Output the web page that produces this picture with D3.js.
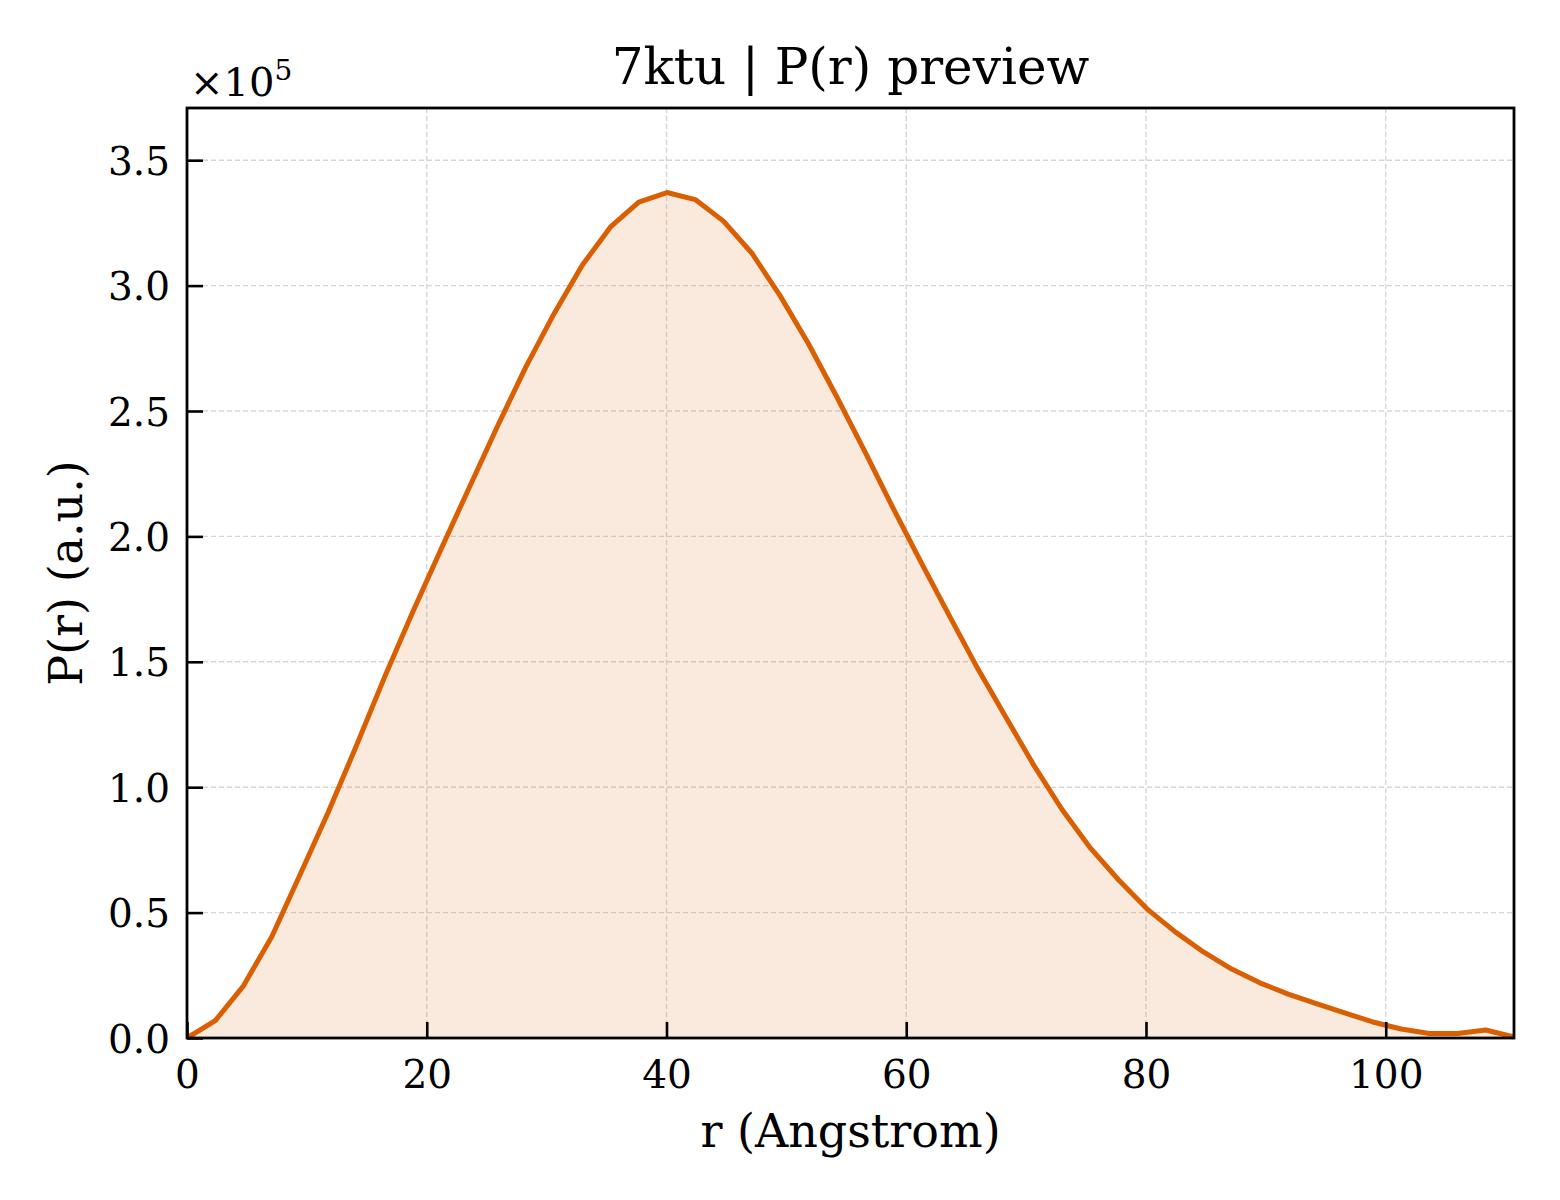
<!DOCTYPE html>
<html>
<head>
<meta charset="utf-8">
<script src="https://cdn.jsdelivr.net/npm/d3@7"></script>
<style>
  body { margin: 0; background: #fff; }
  svg text { font-family: "DejaVu Serif", serif; fill: #000; }
</style>
</head>
<body>
<div id="chart"></div>
<script>

const rValues = [0, 2.36, 4.71, 7.07, 9.42, 11.78, 14.13, 16.49, 18.84, 21.2,
  23.55, 25.91, 28.26, 30.62, 32.97, 35.33, 37.69, 40.04, 42.4, 44.75,
  47.11, 49.46, 51.82, 54.17, 56.53, 58.88, 61.24, 63.59, 65.95, 68.3,
  70.66, 73.01, 75.37, 77.72, 80.08, 82.44, 84.79, 87.15, 89.5, 91.86,
  94.21, 96.57, 98.92, 101.28, 103.63, 105.99, 108.34, 110.7]

// P(r) in units of 1e5
const prValues = [0, 0.069, 0.208, 0.404, 0.65, 0.9, 1.165, 1.44, 1.7, 1.95,
  2.195, 2.44, 2.675, 2.888, 3.081, 3.234, 3.333, 3.371, 3.343, 3.257,
  3.13, 2.961, 2.77, 2.56, 2.34, 2.115, 1.896, 1.684, 1.474, 1.28,
  1.086, 0.91, 0.757, 0.63, 0.515, 0.423, 0.343, 0.275, 0.22, 0.175,
  0.137, 0.1, 0.064, 0.036, 0.018, 0.018, 0.032, 0.004]

const xTicks = [0, 20, 40, 60, 80, 100]
const yTicks = [0, 0.5, 1.0, 1.5, 2.0, 2.5, 3.0, 3.5]

const chartTitle = "7ktu | P(r) preview"
const xLabel = "r (Angstrom)"
const yLabel = "P(r) (a.u.)"

const width = 1560
const height = 1200
const margin = { top: 108, right: 46, bottom: 162, left: 187 }
const lineColor = "#d95f02"

const data = rValues.map((r, i) => ({ r: r, p: prValues[i] }))

const svg = d3.select("#chart")
  .append("svg")
  .attr("width", width)
  .attr("height", height)

const x = d3.scaleLinear()
  .domain([0, d3.max(rValues)])
  .range([margin.left, width - margin.right])

const y = d3.scaleLinear()
  .domain([0, d3.max(prValues) * 1.1])
  .range([height - margin.bottom, margin.top])

const plotW = width - margin.left - margin.right
const plotH = height - margin.top - margin.bottom

// grid
svg.append("g")
  .selectAll("line")
  .data(xTicks.filter((d) => d > 0))
  .join("line")
  .attr("x1", (d) => x(d))
  .attr("x2", (d) => x(d))
  .attr("y1", margin.top)
  .attr("y2", height - margin.bottom)
  .attr("stroke", "#d6d6d6")
  .attr("stroke-width", 1.4)
  .attr("stroke-dasharray", "5,3")

svg.append("g")
  .selectAll("line")
  .data(yTicks.filter((d) => d > 0))
  .join("line")
  .attr("x1", margin.left)
  .attr("x2", width - margin.right)
  .attr("y1", (d) => y(d))
  .attr("y2", (d) => y(d))
  .attr("stroke", "#d6d6d6")
  .attr("stroke-width", 1.4)
  .attr("stroke-dasharray", "5,3")

// fill + line
const area = d3.area()
  .x((d) => x(d.r))
  .y0(y(0))
  .y1((d) => y(d.p))

svg.append("path")
  .datum(data)
  .attr("d", area)
  .attr("fill", lineColor)
  .attr("fill-opacity", 0.13)

const line = d3.line()
  .x((d) => x(d.r))
  .y((d) => y(d.p))

svg.append("path")
  .datum(data)
  .attr("d", line)
  .attr("fill", "none")
  .attr("stroke", lineColor)
  .attr("stroke-width", 5)
  .attr("stroke-linejoin", "round")

// axes with inward ticks
const xAxis = svg.append("g")
  .attr("transform", `translate(0,${height - margin.bottom})`)
  .call(d3.axisBottom(x).tickValues(xTicks).tickSizeInner(-16).tickSizeOuter(0).tickPadding(22))

const yAxis = svg.append("g")
  .attr("transform", `translate(${margin.left},0)`)
  .call(d3.axisLeft(y).tickValues(yTicks).tickFormat(d3.format(".1f")).tickSizeInner(-16).tickSizeOuter(0).tickPadding(17))

for (const ax of [xAxis, yAxis]) {
  ax.select(".domain").remove()
  ax.selectAll(".tick line")
    .attr("stroke", "#000")
    .attr("stroke-width", 2.6)
  ax.selectAll(".tick text")
    .style("font-family", "'DejaVu Serif', serif")
    .style("font-size", "39px")
}

xAxis.selectAll(".tick text").attr("dy", "0.71em")
yAxis.selectAll(".tick text").attr("dy", "0.36em")

// frame
svg.append("rect")
  .attr("x", margin.left)
  .attr("y", margin.top)
  .attr("width", plotW)
  .attr("height", plotH)
  .attr("fill", "none")
  .attr("stroke", "#000")
  .attr("stroke-width", 2.8)

// texts
svg.append("text")
  .attr("x", margin.left + plotW / 2)
  .attr("y", 84)
  .attr("text-anchor", "middle")
  .style("font-size", "50px")
  .text(chartTitle)

svg.append("text")
  .attr("x", margin.left + plotW / 2)
  .attr("y", 1147)
  .attr("text-anchor", "middle")
  .style("font-size", "46px")
  .text(xLabel)

svg.append("text")
  .attr("transform", `translate(82,${margin.top + plotH / 2}) rotate(-90)`)
  .attr("text-anchor", "middle")
  .style("font-size", "46px")
  .text(yLabel)

const offsetText = svg.append("text")
  .attr("x", margin.left + 3)
  .attr("y", 96)
  .style("font-size", "40px")

offsetText.append("tspan").text("×10")
offsetText.append("tspan")
  .attr("dy", -16)
  .style("font-size", "28px")
  .text("5")

</script>
</body>
</html>
